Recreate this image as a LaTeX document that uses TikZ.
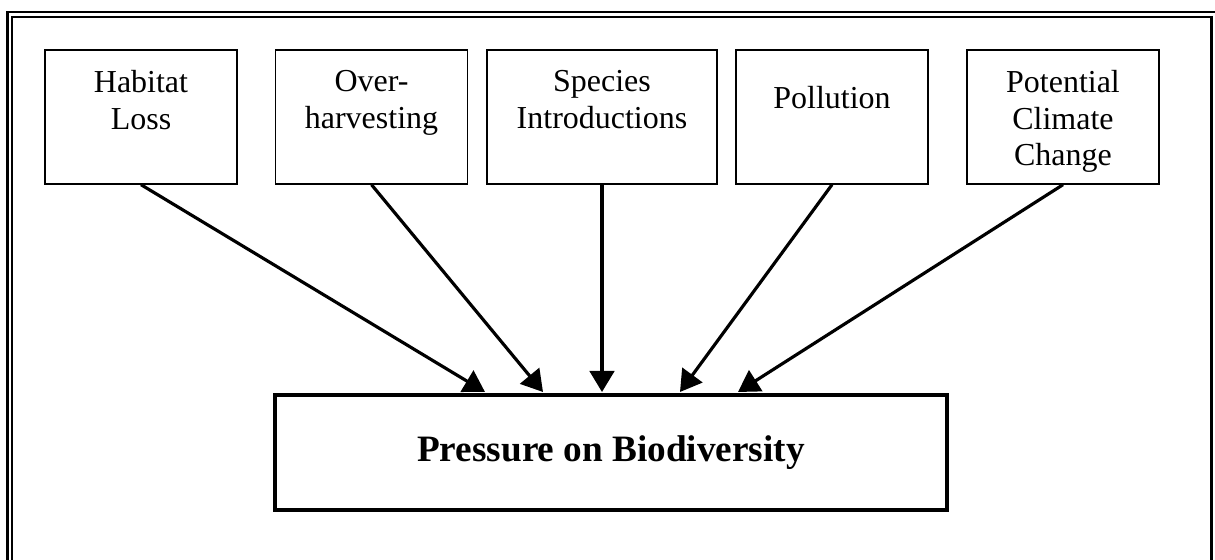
\documentclass[tikz,border=0pt]{standalone}
\usepackage{fontspec}
\setmainfont{Liberation Serif}
\usepackage{tikz}
\usetikzlibrary{arrows.meta, positioning}

\begin{document}
\begin{tikzpicture}[
  x=0.02cm, y=-0.02cm,
  box/.style={draw, line width=0.8pt, minimum width=3.84cm, minimum height=2.68cm},
  lbl/.style={anchor=north, inner sep=0pt, align=center,
              font=\fontsize{18.2}{20.8}\selectfont},
  mainbox/.style={draw, line width=2.3pt, minimum width=13.44cm, minimum height=2.3cm,
                  font=\fontsize{21.2}{25}\selectfont\bfseries},
  arr/.style={-{Triangle[length=12pt, width=14pt]}, line width=1.8pt},
]
\useasboundingbox (0,0) rectangle (1215,560);
\clip (0,0) rectangle (1215,560);

% double frame, open at the bottom
\draw[line width=1.3pt] (7.5,600) |- (1225,12);
\draw[line width=0.6pt] (12,600) |- (1211.5,17);
\draw[line width=1.6pt] (1211.5,16) -- (1211.5,600);

% causes
\node[box] (habitat) at (141,117)   {};
\node[box] (harvest) at (371.5,117) {};
\node[box, minimum width=4.6cm] (species) at (602,117) {};
\node[box] (pollution) at (832,117) {};
\node[box] (climate) at (1063,117)  {};

\node[lbl] (habitatT)   at (141,70)   {Habitat\\Loss};
\node[lbl] (harvestT)   at (371.5,70) {Over-\\harvesting};
\node[lbl] (speciesT)   at (602,70)   {Species\\Introductions};
\node[lbl] (pollutionT) at (832,85.5) {Pollution};
\node[lbl] (climateT)   at (1063,70)  {Potential\\Climate\\Change};

% effect
\node[mainbox] (pressure) at (611,452.5) {Pressure on Biodiversity};

\coordinate (in1) at (485,392);
\coordinate (in2) at (543,392);
\coordinate (in3) at (602,392);
\coordinate (in4) at (680,392);
\coordinate (in5) at (738,392);

\draw[arr] (habitat.south)   -- (in1);
\draw[arr] (harvest.south)   -- (in2);
\draw[arr] (species.south)   -- (in3);
\draw[arr] (pollution.south) -- (in4);
\draw[arr] (climate.south)   -- (in5);
\end{tikzpicture}
\end{document}
